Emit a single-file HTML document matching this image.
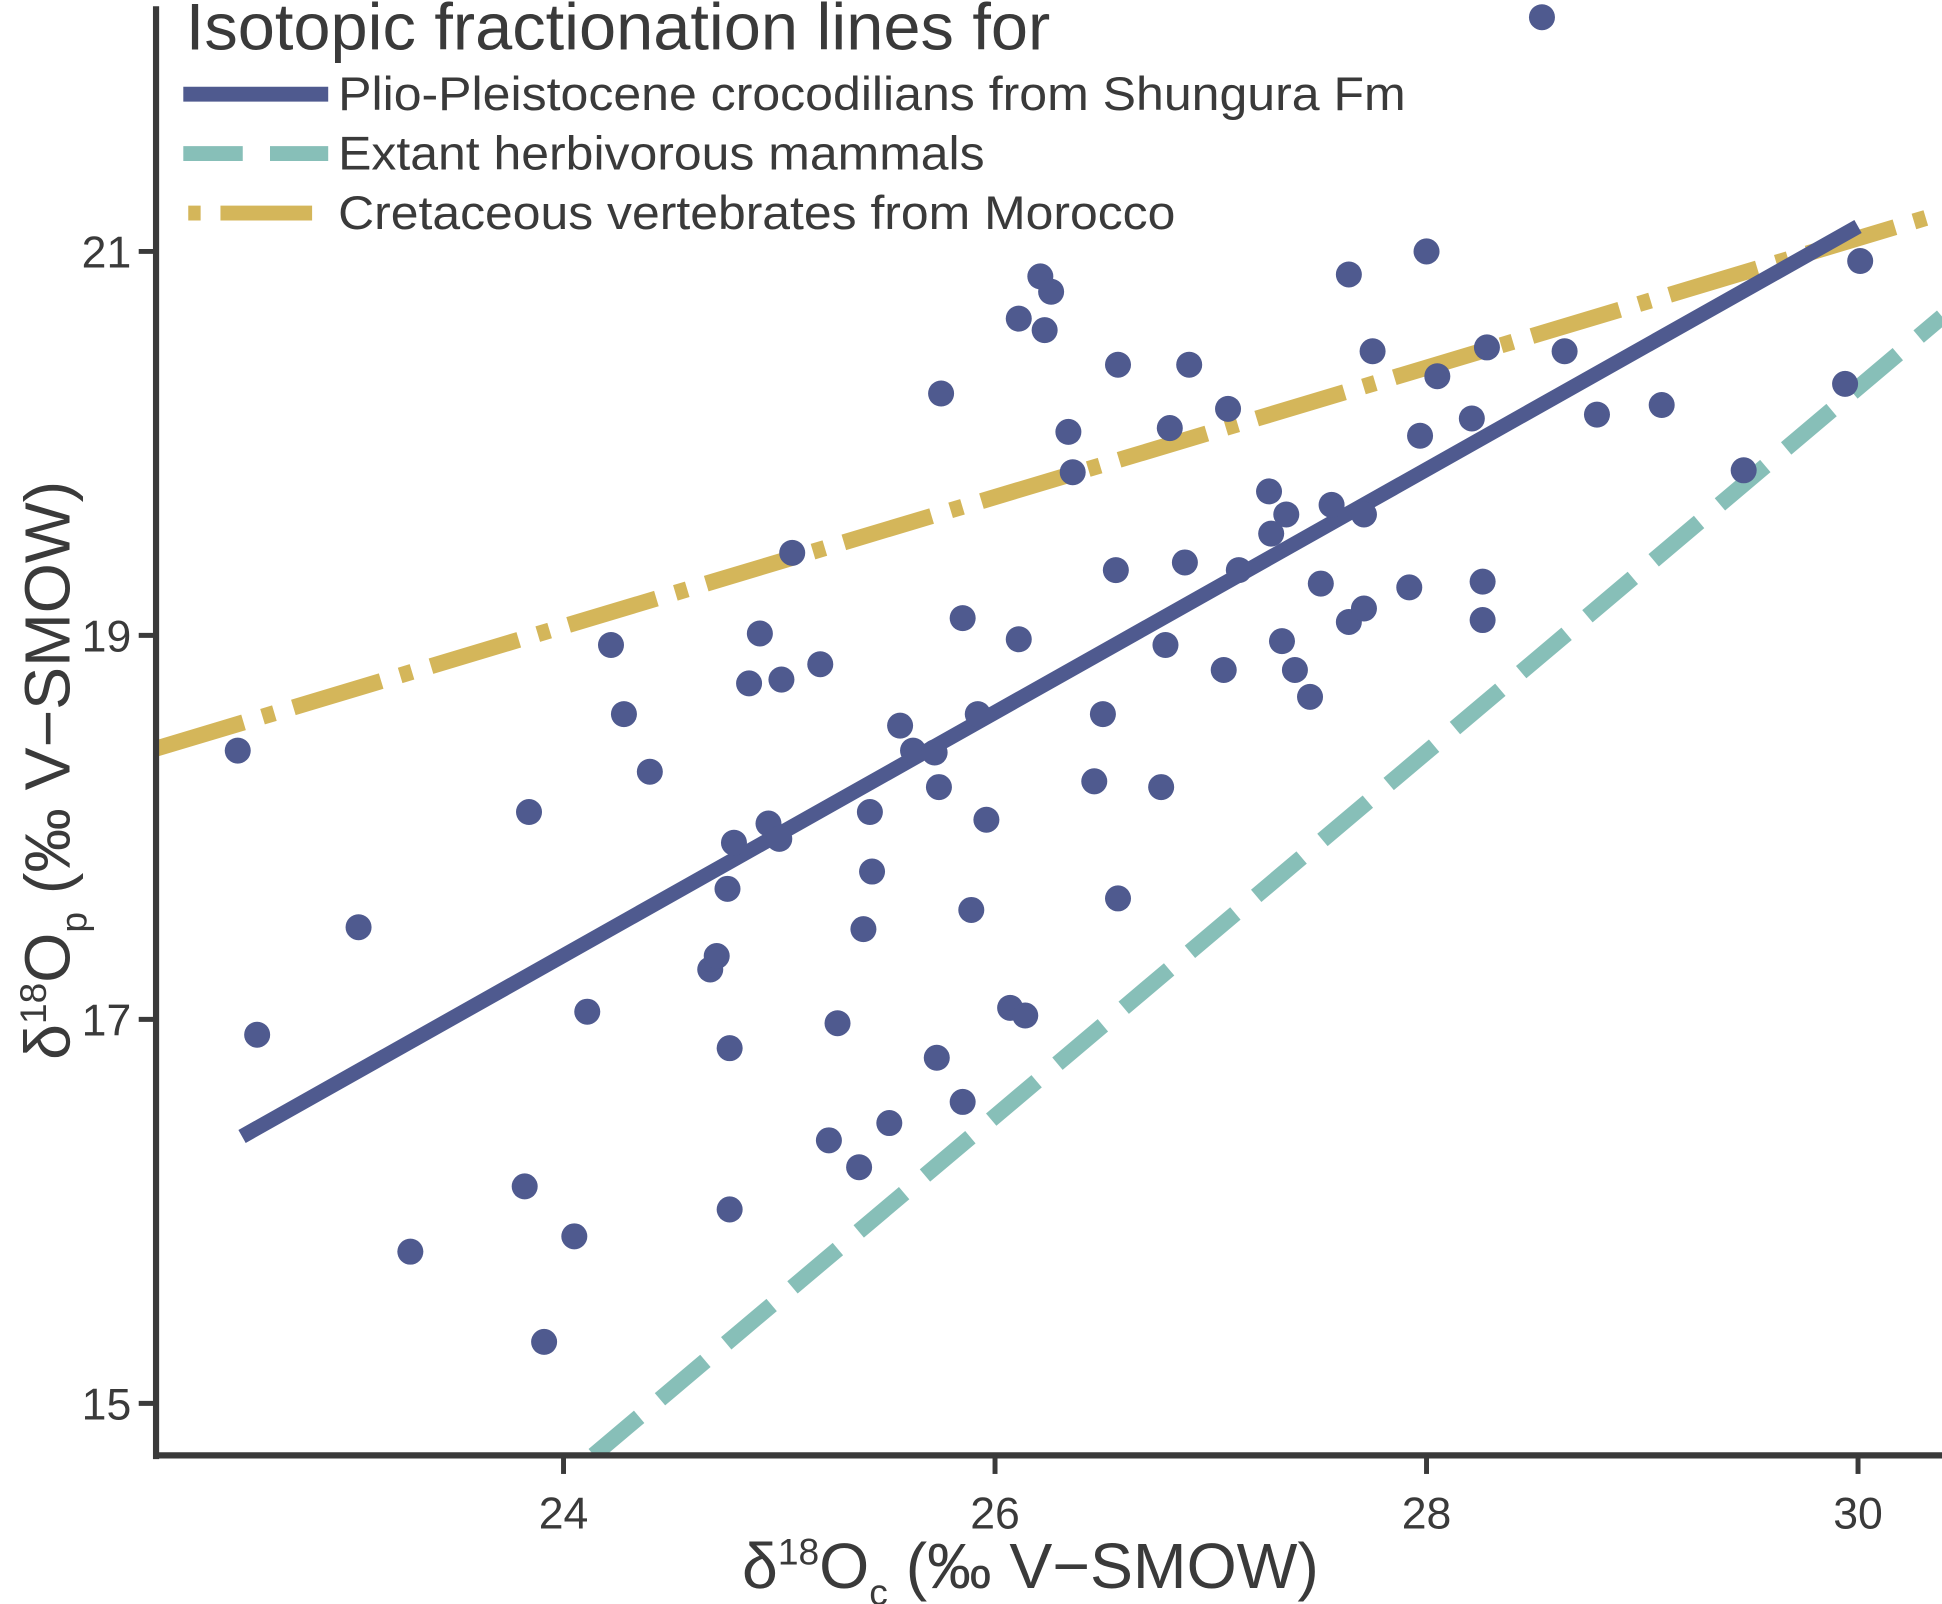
<!DOCTYPE html>
<html><head><meta charset="utf-8"><style>
html,body{margin:0;padding:0;background:#fff;}
svg{display:block;font-family:"Liberation Sans",sans-serif;}
</style></head><body>
<svg id="chart" width="1942" height="1604" viewBox="0 0 1568 1295" preserveAspectRatio="none" xmlns="http://www.w3.org/2000/svg">
<defs><clipPath id="plotclip"><rect x="128" y="0" width="1440" height="1173"/></clipPath></defs>
<g id="lines" clip-path="url(#plotclip)"></g>
<g id="points" clip-path="url(#plotclip)"></g>
<g id="axes"></g>
<g id="legend">
<text x="150" y="40" font-size="53" textLength="698" lengthAdjust="spacingAndGlyphs" fill="#3a3a3a">Isotopic fractionation lines for</text>
<line x1="148" y1="76" x2="265" y2="76" stroke="#4f5a8f" stroke-width="12"/>
<text x="273" y="89" font-size="38" textLength="862" lengthAdjust="spacingAndGlyphs" fill="#3a3a3a">Plio-Pleistocene crocodilians from Shungura Fm</text>
<line x1="148" y1="124" x2="265" y2="124" stroke="#87bfb8" stroke-width="12" stroke-dasharray="48,22"/>
<text x="273" y="137" font-size="38" textLength="522" lengthAdjust="spacingAndGlyphs" fill="#3a3a3a">Extant herbivorous mammals</text>
<line x1="152" y1="172" x2="265" y2="172" stroke="#d4b65a" stroke-width="12" stroke-dasharray="10,16,74,16"/>
<text x="273" y="185" font-size="38" textLength="676" lengthAdjust="spacingAndGlyphs" fill="#3a3a3a">Cretaceous vertebrates from Morocco</text>
</g>
</svg>
<script>
const xTicks = [24, 26, 28, 30];
const yTicks = [15, 17, 19, 21];
const xs = [28.535,22.49,22.58,23.05,23.29,23.82,23.84,23.91,24.05,24.11,24.22,24.28,24.40,24.68,24.71,24.76,24.77,24.77,24.79,24.86,24.91,24.95,25.00,25.01,25.06,25.19,25.23,25.27,25.37,25.39,25.42,25.43,25.51,25.56,25.62,25.72,25.73,25.74,25.75,25.85,25.85,25.89,25.92,25.96,26.07,26.11,26.11,26.14,26.21,26.23,26.26,26.34,26.36,26.46,26.50,26.56,26.57,26.57,26.77,26.79,26.81,26.88,26.90,27.06,27.08,27.13,27.27,27.28,27.33,27.35,27.39,27.46,27.51,27.56,27.64,27.64,27.71,27.71,27.75,27.92,27.97,28.00,28.05,28.21,28.26,28.26,28.28,28.64,28.79,29.09,29.47,29.94,30.01];
const ys = [22.22,18.40,16.92,17.48,15.79,16.13,18.08,15.32,15.87,17.04,18.95,18.59,18.29,17.26,17.33,17.68,16.85,16.01,17.92,18.75,19.01,18.02,17.94,18.77,19.43,18.85,16.37,16.98,16.23,17.47,18.08,17.77,16.46,18.53,18.40,18.39,16.80,18.21,20.26,19.09,16.57,17.57,18.59,18.04,17.06,18.98,20.65,17.02,20.87,20.59,20.79,20.06,19.85,18.24,18.59,19.34,17.63,20.41,18.21,18.95,20.08,19.38,20.41,18.82,20.18,19.34,19.75,19.53,18.97,19.63,18.82,18.68,19.27,19.68,20.88,19.07,19.14,19.63,20.48,19.25,20.04,21.00,20.35,20.13,19.28,19.08,20.50,20.48,20.15,20.20,19.86,20.31,20.95];
const crocX = [22.51, 30.0];
const crocY = [16.39, 21.13];
const mammalX = [24.14, 30.39];
const mammalY = [14.73, 20.66];
const cretX = [22.11, 30.39];
const cretY = [18.41, 21.2];

const NS = "http://www.w3.org/2000/svg";
function sx(v){ return 455 + (v - 24) * 174.2; }
function sy(v){ return 203 - (v - 21) * 155; }
function mk(tag, attrs, parent){ const e = document.createElementNS(NS, tag); for (const k in attrs) e.setAttribute(k, attrs[k]); parent.appendChild(e); return e; }

const lines = document.getElementById('lines');
let l = mk('line', {x1:sx(mammalX[0]), y1:sy(mammalY[0]), x2:sx(mammalX[1]), y2:sy(mammalY[1]), stroke:'#87bfb8','stroke-width':13,'stroke-dasharray':'48,22'}, lines);


l = mk('line', {x1:sx(cretX[0]), y1:sy(cretY[0]), x2:sx(cretX[1]), y2:sy(cretY[1]), stroke:'#d4b65a','stroke-width':13,'stroke-dasharray':'74,16,10,16'}, lines);


l = mk('line', {x1:sx(crocX[0]), y1:sy(crocY[0]), x2:sx(crocX[1]), y2:sy(crocY[1]), stroke:'#4f5a8f','stroke-width':12}, lines);



const pts = document.getElementById('points');
for (let i = 0; i < xs.length; i++) {
  const c = mk('circle', {cx:sx(xs[i]), cy:sy(ys[i]), r:10.5, fill:'#4f5a8f'}, pts);
  
  
}

const axes = document.getElementById('axes');
let a = mk('line', {x1:126, y1:5, x2:126, y2:1178, stroke:'#3a3a3a','stroke-width':5}, axes);


a = mk('line', {x1:124, y1:1175, x2:1568, y2:1175, stroke:'#3a3a3a','stroke-width':5}, axes);


xTicks.forEach(t => {
  const tk = mk('line', {x1:sx(t), y1:1175, x2:sx(t), y2:1190, stroke:'#3a3a3a','stroke-width':4}, axes);
  
  
  const tx = mk('text', {x:sx(t), y:1234, 'font-size':36, fill:'#3a3a3a','text-anchor':'middle'}, axes);
  tx.textContent = t;
  
  
});
yTicks.forEach(t => {
  const tk = mk('line', {x1:112, y1:sy(t), x2:126, y2:sy(t), stroke:'#3a3a3a','stroke-width':4}, axes);
  
  
  const tx = mk('text', {x:106, y:sy(t)+13, 'font-size':36, fill:'#3a3a3a','text-anchor':'end'}, axes);
  tx.textContent = t;
  
  
});
const xl = mk('text', {x:832, y:1282, 'font-size':52, fill:'#3a3a3a','text-anchor':'middle'}, axes);
xl.innerHTML = 'δ<tspan font-size="30" dy="-19">18</tspan><tspan dy="19">O</tspan><tspan font-size="30" dy="14">c</tspan><tspan dy="-14"> (‰ V−SMOW)</tspan>';


const yl = mk('text', {x:0, y:0, 'font-size':52, fill:'#3a3a3a','text-anchor':'middle', transform:'translate(56,622) rotate(-90)'}, axes);
yl.innerHTML = 'δ<tspan font-size="30" dy="-19">18</tspan><tspan dy="19">O</tspan><tspan font-size="30" dy="14">p</tspan><tspan dy="-14"> (‰ V−SMOW)</tspan>';


</script>
</body></html>
